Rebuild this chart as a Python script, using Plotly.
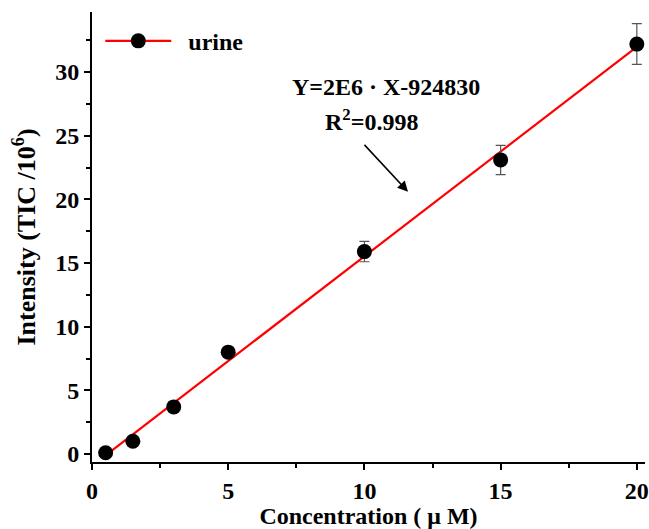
import numpy as np
import plotly.graph_objects as go

# Data (intensity in TIC / 10^6)
conc = [0.5, 1.5, 3, 5, 10, 15, 20]
intensity = [0.1, 1.0, 3.7, 8.0, 15.9, 23.1, 32.2]
err = [0.1, 0.15, 0.25, 0.35, 0.8, 1.15, 1.6]
x_ticks = [0, 5, 10, 15, 20]
y_ticks = [0, 5, 10, 15, 20, 25, 30]

slope, intercept = np.polyfit(conc, intensity, 1)
fit_x = [conc[0], conc[-1]]
fit_y = [slope * v + intercept for v in fit_x]

FONT = "Liberation Serif"

fig = go.Figure()
fig.add_trace(go.Scatter(
    x=fit_x, y=fit_y, mode="lines",
    line=dict(color="#ff0000", width=2.2),
    showlegend=False, hoverinfo="skip", cliponaxis=False))
fig.add_trace(go.Scatter(
    x=conc, y=intensity, mode="markers",
    marker=dict(color="black", size=15),
    error_y=dict(type="data", array=err, color="#555555", thickness=1.2, width=5),
    showlegend=False, cliponaxis=False))
# legend entry (line + marker)
fig.add_trace(go.Scatter(
    x=[None], y=[None], mode="lines+markers", name="\u00a0\u00a0urine",
    line=dict(color="#ff0000", width=2.2),
    marker=dict(color="black", size=15)))

fig.add_annotation(x=11.6, y=20.6, ax=9.95, ay=24.4, xref="x", yref="y",
                   axref="x", ayref="y", text="", showarrow=True,
                   arrowhead=2, arrowsize=1.3, arrowwidth=1.6, arrowcolor="black")
fig.add_annotation(x=10.8, y=28.85, xref="x", yref="y", showarrow=False,
                   text="Y=2E6 · X-924830",
                   font=dict(family=FONT, size=24, color="black", weight="bold"))
fig.add_annotation(x=10.25, y=26.25, xref="x", yref="y", showarrow=False,
                   text="R<sup>2</sup>=0.998",
                   font=dict(family=FONT, size=24, color="black", weight="bold"))

axis_common = dict(
    showline=True, linecolor="black", linewidth=2, mirror=False,
    ticks="outside", ticklen=6, tickwidth=2, tickcolor="black",
    showgrid=False, zeroline=False, automargin=False,
    ticklabeloverflow="allow",
    tickfont=dict(family=FONT, size=24, color="black", weight="bold"),
)
fig.update_xaxes(range=[0, 20.3], tickvals=x_ticks,
                 minor=dict(ticks="outside", ticklen=4, tickwidth=2, tickcolor="black", dtick=2.5, tick0=0),
                 title=dict(text="Concentration ( μ M)", standoff=7,
                            font=dict(family=FONT, size=24, color="black", weight="bold")),
                 **axis_common)
fig.update_yaxes(range=[-0.63, 34.72], tickvals=y_ticks,
                 minor=dict(ticks="outside", ticklen=4, tickwidth=2, tickcolor="black", dtick=2.5, tick0=0),
                 title=dict(text="Intensity (TIC /10<sup>6</sup>)", standoff=12,
                            font=dict(family=FONT, size=26, color="black", weight="bold")),
                 **axis_common)

fig.update_layout(
    width=649, height=529,
    margin=dict(l=92, r=4, t=12, b=67),
    plot_bgcolor="white", paper_bgcolor="white",
    legend=dict(x=0.015, y=0.985, xanchor="left", yanchor="top",
                itemwidth=66, bgcolor="rgba(0,0,0,0)",
                font=dict(family=FONT, size=24, color="black", weight="bold")),
)

fig.write_html("out.html", config={"displayModeBar": False},
               post_script="document.body.style.margin='0';document.body.style.overflow='hidden';")
